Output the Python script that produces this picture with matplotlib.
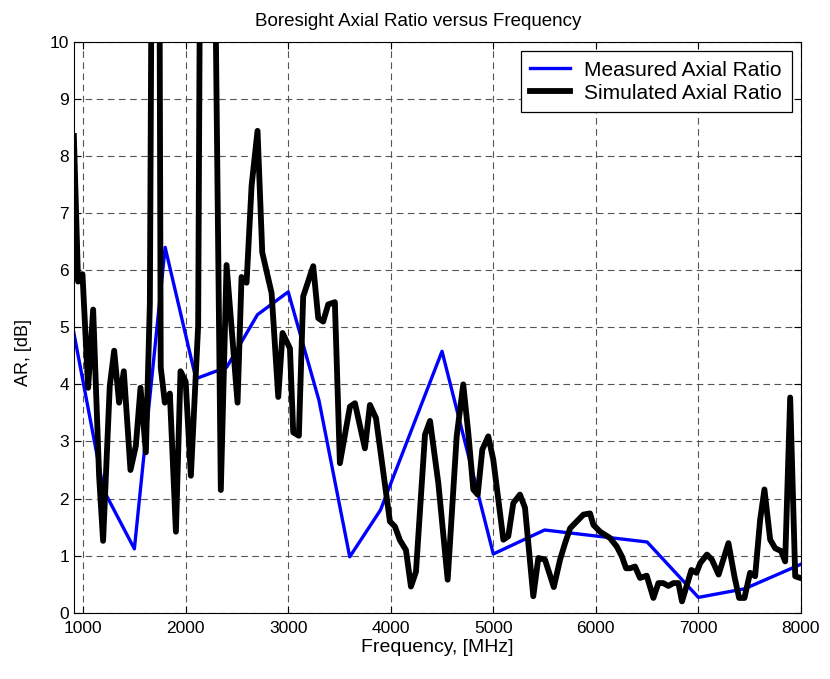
import numpy as np
import matplotlib.pyplot as plt

plt.rcParams['font.family'] = ['Liberation Sans', 'DejaVu Sans']

# measured axial ratio (MHz, dB)
f_meas = [910, 1200, 1500, 1800, 2100, 2400, 2700, 3000, 3300, 3600, 3900,
          4500, 5000, 5500, 6500, 7000, 7450, 8000]
ar_meas = [4.9, 2.15, 1.12, 6.4, 4.1, 4.3, 5.22, 5.62, 3.72, 0.98, 1.8,
           4.58, 1.03, 1.45, 1.24, 0.27, 0.42, 0.85]

# simulated axial ratio (MHz, dB)
f_sim = [910, 951, 994, 1049, 1098, 1156, 1195, 1260, 1303, 1351, 1397,
         1462, 1514, 1560, 1612, 1651, 1675, 1705, 1740, 1757, 1797, 1846,
         1905, 1950, 2000, 2051, 2122, 2150, 2205, 2265, 2343, 2399, 2506,
         2545, 2594, 2643, 2701, 2747, 2838, 2903, 2945, 3017, 3049, 3104,
         3146, 3244, 3293, 3341, 3390, 3455, 3504, 3602, 3651, 3748, 3797,
         3856, 3992, 4041, 4090, 4148, 4197, 4246, 4334, 4383, 4464, 4555,
         4643, 4707, 4756, 4805, 4848, 4893, 4951, 5000, 5098, 5146, 5195,
         5260, 5309, 5390, 5439, 5504, 5590, 5651, 5700, 5749, 5814, 5879,
         5943, 5976, 6041, 6138, 6204, 6253, 6295, 6334, 6382, 6431, 6496,
         6561, 6610, 6658, 6707, 6756, 6805, 6840, 6932, 6981, 7018, 7083,
         7132, 7197, 7293, 7351, 7397, 7449, 7504, 7553, 7602, 7644, 7700,
         7749, 7807, 7846, 7895, 7944, 7993]
ar_sim = [8.35, 5.8, 5.93, 3.94, 5.31, 2.4, 1.26, 3.97, 4.59, 3.68, 4.23,
          2.5, 2.92, 3.94, 2.81, 5.41, 14.0, 11.0, 14.0, 4.3, 3.68, 3.84,
          1.42, 4.23, 4.05, 2.4, 5.03, 15.0, 11.0, 15.0, 2.15, 6.09, 3.68,
          5.88, 5.78, 7.48, 8.44, 6.31, 5.6, 3.78, 4.9, 4.63, 3.16, 3.1,
          5.54, 6.07, 5.16, 5.1, 5.4, 5.44, 2.62, 3.61, 3.67, 2.88, 3.64,
          3.41, 1.6, 1.51, 1.27, 1.1, 0.46, 0.72, 3.12, 3.36, 2.27, 0.58,
          3.09, 4.0, 3.15, 2.16, 2.07, 2.86, 3.09, 2.68, 1.28, 1.34, 1.92,
          2.07, 1.84, 0.29, 0.96, 0.93, 0.45, 0.93, 1.22, 1.48, 1.6, 1.72,
          1.74, 1.54, 1.42, 1.31, 1.16, 0.99, 0.78, 0.78, 0.81, 0.61, 0.65,
          0.26, 0.52, 0.52, 0.47, 0.52, 0.52, 0.2, 0.75, 0.7, 0.87, 1.02,
          0.93, 0.67, 1.22, 0.64, 0.26, 0.26, 0.7, 0.64, 1.63, 2.16, 1.28,
          1.13, 1.08, 0.9, 3.77, 0.64, 0.61]

fig = plt.figure(figsize=(8.3, 6.79), dpi=100)
ax = fig.add_axes([0.089, 0.0975, 0.876, 0.841])

ax.plot(f_meas, ar_meas, color='#0000ff', lw=2.4, label='Measured Axial Ratio')
ax.plot(f_sim, ar_sim, color='k', lw=4.2, label='Simulated Axial Ratio')

ax.set_xlim(910, 8000)
ax.set_ylim(0, 10)
ax.set_xticks(np.arange(1000, 8001, 1000))
ax.set_yticks(np.arange(0, 11, 1))
ax.tick_params(direction='in', top=True, right=True, labelsize=12.5, length=5)
ax.tick_params(axis='x', pad=6)
ax.grid(True, color='#555555', linestyle=(0, (6, 4)), linewidth=0.8)

ax.set_title('Boresight Axial Ratio versus Frequency', fontsize=13.5, pad=11,
             x=0.473)
ax.set_xlabel('Frequency, [MHz]', fontsize=14, labelpad=2)
ax.set_ylabel('AR, [dB]', fontsize=13)
ax.yaxis.set_label_coords(-0.058, 0.455)

leg = ax.legend(loc='upper right', fontsize=15, fancybox=False, framealpha=1,
                edgecolor='k', borderaxespad=0.45, handlelength=1.9,
                handletextpad=0.7, labelspacing=0.2, borderpad=0.45)
leg.get_frame().set_linewidth(0.9)

plt.savefig('out.png', dpi=100)
